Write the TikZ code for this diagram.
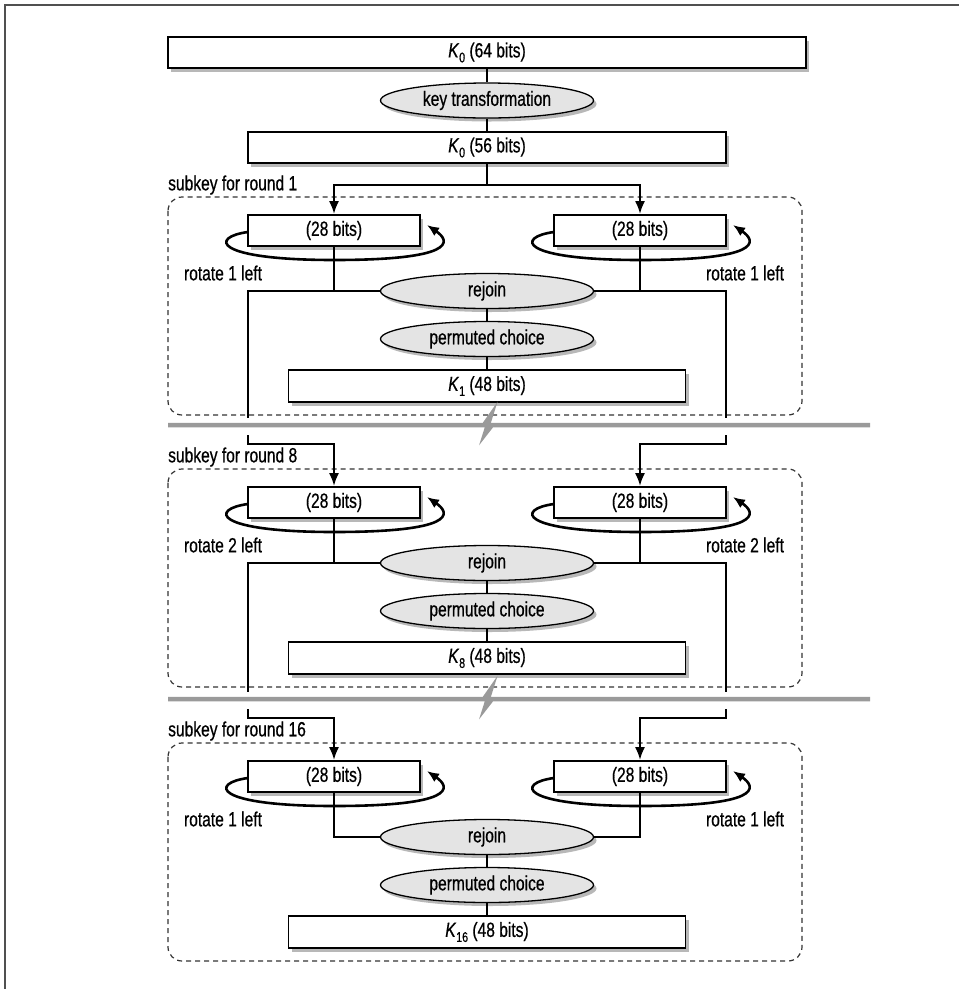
\documentclass[tikz,border=0pt]{standalone}
\usepackage{fontspec}
\setmainfont[FakeStretch=0.76,FakeBold=0.6]{Liberation Sans}
\usetikzlibrary{arrows.meta,shapes.geometric,shadows}
\definecolor{framec}{HTML}{505050}
\definecolor{greyl}{HTML}{9A9A9A}
\definecolor{ovalfill}{HTML}{E4E4E4}
\definecolor{dashc}{HTML}{333333}
\newcommand{\Kx}[1]{\textit{K}\raisebox{-5pt}{\fontsize{14}{14}\selectfont #1}}
\begin{document}
\begin{tikzpicture}[x=1pt,y=-1pt,
  every node/.style={font=\fontsize{20.5}{22}\selectfont, inner sep=0pt},
  shad/.style={drop shadow={shadow xshift=3pt, shadow yshift=-3.5pt, fill=black, opacity=0.28}},
  box/.style={draw=black, line width=1.6pt, fill=white, minimum height=31pt, shad},
  oval/.style={ellipse, draw=black, line width=1.3pt, fill=ovalfill, minimum width=213pt, minimum height=35pt, shad},
  conn/.style={draw=black, line width=2.5pt},
  arr/.style={conn, -{Latex[length=13pt,width=10pt]}},
  loopline/.style={draw=black, line width=2.6pt, -{Latex[length=12pt,width=10pt]}},
  dashbox/.style={draw=dashc, line width=1.2pt, dash pattern=on 5pt off 4pt, rounded corners=14pt},
  greyline/.style={draw=greyl, line width=4.5pt, line join=miter},
  labl/.style={anchor=center}
]
\useasboundingbox (0,0) rectangle (959,989);
% frame
\draw[framec, line width=2pt] (5,989) -- (5,5) -- (959,5);

% top part
\node[box, minimum width=638pt] (k64) at (487,52.5) {\Kx{0} (64 bits)};
\node[oval] (kt) at (487,100.5) {key transformation};
\node[box, minimum width=478pt] (k56) at (487,147.5) {\Kx{0} (56 bits)};
\draw[conn] (k64.south) -- (kt.north);
\draw[conn] (kt.south) -- (k56.north);

% rounds
\foreach \T/\r/\n in {215/1/1, 487/8/2, 761/16/1} {
  \draw[dashbox] (168,{\T-18}) rectangle (802,{\T+200});
  \node[anchor=west] (sk\r) at (168,{\T-30}) {subkey for round \r};
  \draw[loopline] (248,{\T+17}) .. controls (210,{\T+22}) and (212,{\T+45}) .. (334,{\T+45}) .. controls (454,{\T+45}) and (452,{\T+27}) .. (427,{\T+10});
  \draw[loopline] (554,{\T+17}) .. controls (516,{\T+22}) and (518,{\T+45}) .. (640,{\T+45}) .. controls (760,{\T+45}) and (758,{\T+27}) .. (733,{\T+10});
  \node[box, minimum width=172pt] (L\r) at (334,{\T+15.5}) {(28 bits)};
  \node[box, minimum width=172pt] (R\r) at (640,{\T+15.5}) {(28 bits)};
  \node[oval] (rj\r) at (487,{\T+76}) {rejoin};
  \node[oval] (pc\r) at (487,{\T+124}) {permuted choice};
  \node[box, minimum width=397pt, minimum height=32pt] (K\r) at (487,{\T+171}) {\Kx{\r} (48 bits)};
  \node[labl] (rl\r) at (223,{\T+58}) {rotate \n{} left};
  \node[labl] (rr\r) at (745,{\T+58}) {rotate \n{} left};
  \draw[conn] (L\r.south) |- (rj\r.west);
  \draw[conn] (R\r.south) |- (rj\r.east);
  \draw[conn] (rj\r.south) -- (pc\r.north);
  \draw[conn] (pc\r.south) -- (K\r.north);
}

% split into round 1
\coordinate (s1) at (487,185);
\draw[arr] (k56.south) -- (s1) -| (L1.north);
\draw[arr] (s1) -| (R1.north);

% grey break lines
\draw[greyline] (168,425) -- (484,425) -- (491,415) -- (485,434) -- (492,425) -- (870,425);
\draw[greyline] (168,699) -- (484,699) -- (491,689) -- (485,708) -- (492,699) -- (870,699);

% round 1 -> round 8
\coordinate (eL1) at (248,418);
\coordinate (eR1) at (726,418);
\draw[conn] (rj1.west) -| (eL1);
\draw[conn] (rj1.east) -| (eR1);
\coordinate (aL8) at (248,435);
\coordinate (bL8) at (334,444);
\coordinate (aR8) at (726,435);
\coordinate (bR8) at (640,444);
\draw[arr] (aL8) |- (bL8) -- (L8.north);
\draw[arr] (aR8) |- (bR8) -- (R8.north);

% round 8 -> round 16
\coordinate (eL8) at (248,692);
\coordinate (eR8) at (726,692);
\draw[conn] (rj8.west) -| (eL8);
\draw[conn] (rj8.east) -| (eR8);
\coordinate (aL16) at (248,709);
\coordinate (bL16) at (334,718);
\coordinate (aR16) at (726,709);
\coordinate (bR16) at (640,718);
\draw[arr] (aL16) |- (bL16) -- (L16.north);
\draw[arr] (aR16) |- (bR16) -- (R16.north);
\end{tikzpicture}
\end{document}
